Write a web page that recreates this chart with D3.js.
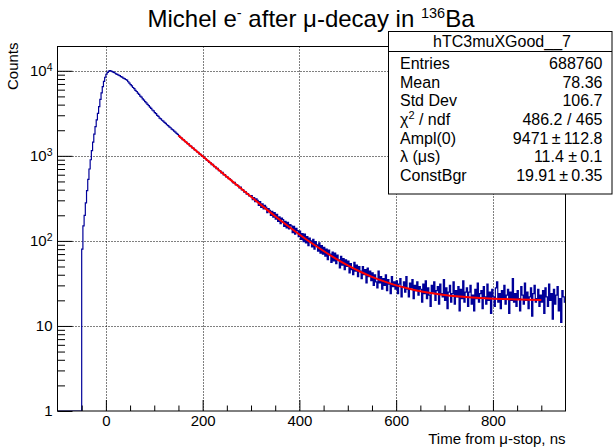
<!DOCTYPE html>
<html><head><meta charset="utf-8">
<script src="https://cdn.jsdelivr.net/npm/d3@7"></script>
<style>
body{margin:0;background:#fff;}
text{font-family:"Liberation Sans",Arial,Helvetica,sans-serif;fill:#000;}
</style></head>
<body><svg id="c" width="613" height="448"></svg>
<script>
// ---- data ----
const titleParts = ["Michel e", "-", " after \u03bc-decay in ", "136", "Ba"];
const xTitle = "Time from \u03bc-stop, ns";
const yTitle = "Counts";
const xDomain = [-100, 950];
const yDomain = [1, 19300];
const xTicks = [0, 200, 400, 600, 800];
const xMinorTicks = [-50, 50, 100, 150, 250, 300, 350, 450, 500, 550, 650, 700, 750, 850, 900];
const yTicks = [1, 10, 100, 1000, 10000];
const yTickBase = ["1", "10", "10", "10", "10"];
const yTickExp = ["", "", "2", "3", "4"];
const binLow = -100;
const binWidth = 2.5;
const counts = [
0,0,0,0,0,0,0,0,0,0,0,0,0,0,0,0,0,0,0,0,
80,150,200,280,390,530,700,900,1150,1450,1800,2200,2650,3150,3800,4600,5500,6500,7500,8400,9100,9600,9900,10050,
9930,9780,9560,9420,9210,9080,8870,8750,8530,8410,8200,8090,7900,7770,7430,7180,6870,6660,6360,6160,
5880,5710,5450,5280,5040,4890,4670,4530,4330,4200,4020,3900,3730,3620,3460,3370,3220,3130,2990,2910,
2780,2720,2620,2560,2470,2410,2320,2270,2190,2140,2060,2020,1950,1900,1840,1790,
1725,1648,1630,1552,1540,1470,1455,1395,1380,1310,1302,1240,1232,1175,1160,1110,1098,1045,1040,990,
985,940,930,884,880,840,832,790,792,748,745,705,712,668,672,630,638,598,600,565,
568,540,538,520,498,480,488,455,458,445,420,428,398,401,375,380,355,360,337,340,
340,305,322,290,312,300,262,290,248,272,238,262,250,215,240,228,200,222,190,215,
180,205,170,192,160,185,178,148,170,142,165,138,155,150,125,148,120,140,132,112,
130,104,122,98,120,95,112,88,108,100,85,104,80,98,90,76,95,72,88,70,
84,66,80,60,78,70,56,74,58,72,54,68,60,48,66,52,62,46,60,50,
58,42,54,46,40,56,44,52,38,50,44,36,50,40,46,32,48,38,44,34,
42,30,40,33,28,44,32,38,27,36,30,40,26,35,31,24,38,29,33,27,
34,24,31,36,22,29,33,25,38,27,22,32,28,35,21,30,26,33,23,29,
27,19,31,24,34,21,28,23,17,30,25,33,20,26,29,18,31,24,22,35,
20,28,16,25,30,19,24,33,18,26,22,29,15,27,21,34,19,25,28,17,
25,30,18,23,15,27,21,32,19,24,26,16,29,22,18,31,20,25,14,27,
22,17,28,33,19,24,16,26,21,30,18,23,27,14,25,20,36,19,24,17,
26,21,15,29,23,18,32,20,25,16,22,28,13,24,30,19,21,27,17,23,
19,26,14,28,22,17,31,20,24,12,27,18,23,29,15,21,11,26,22,19
];
const fitT = [150,175,200,225,250,275,300,325,350,375,400,425,450,475,500,525,550,575,600,625,650,675,700,725,750,775,800,825,850,875,900];
const fitV = [1733,1308,989,748,568,432,330,253,195,151.6,119,94.4,76,62,51.6,43.7,37.8,33.4,30,27.5,25.6,24.2,23.1,22.3,21.7,21.3,20.9,20.7,20.5,20.3,20.2];
const statTitle = "hTC3muXGood__7";
const statNames = ["Entries", "Mean", "Std Dev", "\u03c7\u00b2 / ndf", "Ampl(0)", "\u03bb (\u03bcs)", "ConstBgr"];
const statValues = ["688760", "78.36", "106.7", "486.2 / 465", "9471\u2009\u00b1\u2009112.8", "11.4 \u00b1\u20090.1", "19.91\u2009\u00b1\u20090.35"];

// ---- layout ----
const L = 57.5, R = 565.5, T = 46.5, B = 411;
const svg = d3.select("#c");
const x = d3.scaleLinear().domain(xDomain).range([L, R]);
const y = d3.scaleLog().domain(yDomain).range([B, T]);

// grid
const grid = svg.append("g").attr("stroke", "#000").attr("stroke-width", 1).attr("stroke-dasharray", "1,2");
grid.selectAll(".gx").data(xTicks).enter().append("line")
  .attr("x1", d => Math.round(x(d)) + 0.5).attr("x2", d => Math.round(x(d)) + 0.5)
  .attr("y1", T).attr("y2", B);
grid.selectAll(".gy").data(yTicks.slice(1)).enter().append("line")
  .attr("y1", d => Math.round(y(d)) + 0.5).attr("y2", d => Math.round(y(d)) + 0.5)
  .attr("x1", L).attr("x2", R);

// histogram
svg.append("clipPath").attr("id", "fr").append("rect")
  .attr("x", L).attr("y", T).attr("width", R - L).attr("height", B - T);
const yc = v => v > 0 ? Math.min(B, y(v)) : B;
let pts = [];
counts.forEach((c, i) => {
  const x0 = x(binLow + i * binWidth), x1 = x(binLow + (i + 1) * binWidth);
  pts.push([x0, yc(c)], [x1, yc(c)]);
});
svg.append("path").attr("clip-path", "url(#fr)")
  .attr("d", d3.line()(pts)).attr("fill", "none")
  .attr("stroke", "#000099").attr("stroke-width", 1.2);

// fit
svg.append("path").attr("clip-path", "url(#fr)")
  .attr("d", d3.line().x(d => x(d[0])).y(d => y(d[1])).curve(d3.curveMonotoneX)(fitT.map((t, i) => [t, fitV[i]])))
  .attr("fill", "none").attr("stroke", "#ff0000").attr("stroke-width", 2);

// axes
const xAxis = d3.axisBottom(x).tickValues(xTicks).tickSize(-11).tickPadding(4.5).tickFormat(d3.format("d"));
const gx = svg.append("g").attr("transform", `translate(0,${B})`).call(xAxis);
gx.select(".domain").remove();
gx.selectAll("text").attr("font-size", 15).attr("font-family", "Liberation Sans, Arial, sans-serif");
svg.append("g").attr("transform", `translate(0,${B})`)
  .call(d3.axisBottom(x).tickValues(xMinorTicks).tickSize(-5.5).tickFormat(""))
  .select(".domain").remove();

const yMinor = [];
[1, 10, 100, 1000, 10000].forEach(dec => { for (let m = 2; m <= 9; m++) if (dec * m < yDomain[1]) yMinor.push(dec * m); });
const gy = svg.append("g").attr("transform", `translate(${L},0)`)
  .call(d3.axisLeft(y).tickValues(yTicks).tickSize(-15).tickPadding(5).tickFormat(""));
gy.select(".domain").remove();
gy.selectAll(".tick text").each(function(d, i) {
  const t = d3.select(this).attr("font-size", 15).attr("font-family", "Liberation Sans, Arial, sans-serif");
  t.text(yTickBase[i]);
  if (yTickExp[i]) t.append("tspan").attr("dy", "-0.45em").attr("font-size", 10.5).text(yTickExp[i]);
});
svg.append("g").attr("transform", `translate(${L},0)`)
  .call(d3.axisLeft(y).tickValues(yMinor).tickSize(-7.5).tickFormat(""))
  .select(".domain").remove();
svg.selectAll(".tick line").attr("stroke", "#000");

// frame
svg.append("rect").attr("x", L).attr("y", T).attr("width", R - L).attr("height", B - T)
  .attr("fill", "none").attr("stroke", "#000").attr("stroke-width", 1);

// axis titles
svg.append("text").attr("x", R).attr("y", 444).attr("text-anchor", "end").attr("font-size", 15).text(xTitle);
svg.append("text").attr("transform", `translate(18,${T - 4}) rotate(-90)`).attr("text-anchor", "end").attr("font-size", 15).text(yTitle);

// title
const tt = svg.append("text").attr("x", 311).attr("y", 27).attr("text-anchor", "middle").attr("font-size", 24);
tt.append("tspan").text(titleParts[0]);
tt.append("tspan").attr("dy", -9).attr("font-size", 14.5).text(titleParts[1]);
tt.append("tspan").attr("dy", 9).text(titleParts[2]);
tt.append("tspan").attr("dy", -9).attr("font-size", 14.5).text(titleParts[3]);
tt.append("tspan").attr("dy", 9).text(titleParts[4]);

// stats box
const SX0 = 388.5, SX1 = 612, SY0 = 31.5, SY1 = 194, SH = 51.5;
svg.append("rect").attr("x", SX0).attr("y", SY0).attr("width", SX1 - SX0).attr("height", SY1 - SY0)
  .attr("fill", "#fff").attr("stroke", "#000");
svg.append("line").attr("x1", SX0).attr("x2", SX1).attr("y1", SH).attr("y2", SH).attr("stroke", "#000");
svg.append("text").attr("x", 502).attr("y", 47).attr("text-anchor", "middle").attr("font-size", 16).text(statTitle);
statNames.forEach((n, i) => {
  const by = 68.8 + i * 18.7;
  const tn = svg.append("text").attr("x", 400).attr("y", by).attr("font-size", 16);
  if (n.indexOf("\u00b2") >= 0) {
    tn.append("tspan").text("\u03c7");
    tn.append("tspan").attr("dy", -6).attr("font-size", 11).text("2");
    tn.append("tspan").attr("dy", 6).text(" / ndf");
  } else tn.text(n);
  svg.append("text").attr("x", 602.5).attr("y", by).attr("text-anchor", "end").attr("font-size", 16).text(statValues[i]);
});
</script></body></html>
